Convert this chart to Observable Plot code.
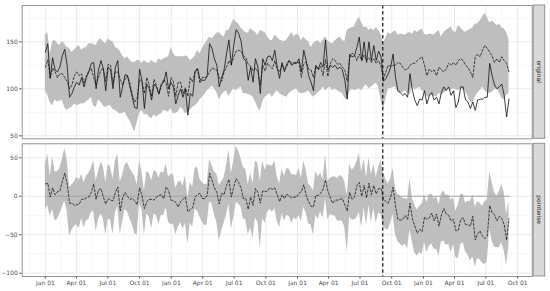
<!DOCTYPE html>
<html><head><meta charset="utf-8">
<script src="https://cdn.jsdelivr.net/npm/d3@7"></script>
<script src="https://cdn.jsdelivr.net/npm/@observablehq/plot@0.6"></script>
<style>
body{margin:0;background:#fff}
#chart{position:relative;width:550px;height:291px;background:#fff}
#chart svg{position:absolute;left:0}
</style></head><body><div id="chart"></div>
<script>
// weekly series starting at this date
const startDate = "2015-01-01";
const interventionDate = "2017-09-05";
const panelLabels = ["original", "pointwise"];

const observed = [
139,148,111,133,120,118,123,135,142,125,
91,95,102,107,104,112,102,112,118,127,
128,100,120,130,121,98,123,120,100,123,
130,91,102,115,114,102,91,80,79,121,
109,79,105,100,88,105,102,95,105,107,
118,100,107,102,84,93,100,91,100,72,
95,92,118,122,110,109,109,114,148,143,
132,125,102,112,120,137,152,125,146,163,
159,151,132,130,109,123,107,132,123,95,
132,125,134,135,130,141,123,111,128,118,
127,130,125,127,127,132,118,141,130,114,
107,98,125,121,128,123,152,120,125,123,
125,121,123,120,109,89,137,134,135,144,
155,130,150,128,150,130,146,130,140,134,
108,111,116,123,137,112,98,96,93,95,
91,116,98,88,82,89,88,98,84,93,
96,88,91,84,96,102,98,102,93,98,
80,86,102,102,88,86,79,86,77,88,
89,89,91,91,127,114,104,100,102,105,
93,70,89];

const predicted = [
123,131,112,122,118,112,116,116,112,108,
100,104,114,118,114,116,106,114,119,122,
112,104,112,120,122,108,126,125,106,118,
118,110,104,110,114,106,94,86,90,110,
108,95,112,104,92,110,103,94,103,110,
106,92,112,108,92,107,107,95,101,92,
112,107,119,120,106,112,112,113,118,122,
121,120,112,108,118,123,130,126,134,140,
141,140,135,133,126,124,119,122,118,104,
125,119,127,124,121,130,121,118,126,121,
124,130,127,128,128,128,112,126,129,121,
120,112,124,120,124,114,131,113,127,132,
130,126,127,123,120,108,132,138,136,130,
137,130,136,130,133,128,132,127,130,124,
111,118,125,124,125,125,128,127,123,120,
121,125,127,127,130,132,134,125,114,121,
118,120,114,123,120,118,121,127,125,128,
125,130,132,130,125,123,118,112,134,137,
134,141,146,143,139,135,128,132,128,134,
130,127,118];

const predUpper = [
157,160,137,150,152,148,146,150,148,144,
143,139,141,144,146,141,143,144,148,148,
147,146,151,153,150,148,153,151,150,144,
143,140,135,132,134,131,128,128,130,130,
127,130,128,127,130,128,127,132,130,132,
133,134,144,138,134,134,134,134,135,134,
130,132,135,141,137,143,147,151,155,153,
156,159,160,157,155,162,162,168,174,171,
169,165,162,160,159,164,162,160,157,162,
161,160,155,152,151,157,155,152,151,150,
152,156,160,155,158,157,151,155,152,150,
144,148,150,151,148,152,155,151,149,148,
151,153,155,152,150,162,164,165,166,172,
176,170,165,166,162,164,162,165,162,158,
148,154,160,158,160,162,157,158,158,157,
159,160,158,162,160,162,164,158,157,158,
158,157,160,162,155,160,162,164,166,161,
160,167,165,162,160,162,163,165,169,169,
172,176,180,176,170,172,170,167,169,165,
164,160,152];

const predLower = [
98,93,85,82,88,86,87,88,80,77,
79,80,84,82,83,84,84,86,88,91,
82,80,88,86,82,80,82,82,78,77,
75,73,74,75,70,66,60,54,64,74,
77,72,73,70,68,72,70,72,73,77,
76,75,79,73,74,75,80,78,73,75,
77,80,82,84,88,91,94,98,100,103,
100,96,88,93,96,98,92,96,100,98,
100,102,95,95,94,93,91,86,80,76,
86,91,93,95,91,95,98,95,93,92,
91,95,97,99,100,96,95,95,96,98,
94,91,93,96,98,102,98,100,102,98,
100,98,96,95,90,88,96,100,98,99,
100,98,102,104,100,102,104,106,102,88,
77,89,100,100,101,102,96,95,96,98,
95,93,102,99,100,102,98,96,92,91,
93,92,91,95,93,95,97,100,98,100,
99,98,100,99,97,92,86,84,91,95,
98,102,98,96,95,96,99,100,96,90,
88,93,95];

const xTickDates = ["2014-10-01","2015-01-01","2015-04-01","2015-07-01","2015-10-01",
  "2016-01-01","2016-04-01","2016-07-01","2016-10-01","2017-01-01","2017-04-01",
  "2017-07-01","2017-10-01","2018-01-01","2018-04-01","2018-07-01","2018-10-01"];
const xTickFormat = "%b %d";
const yTicksTop = [50, 100, 150];
const yMinorTop = [75, 125, 175];
const yTicksBottom = [-100, -50, 0, 50];
const yMinorBottom = [-75, -25, 25];

// build table
const t0 = new Date(startDate + "T00:00:00Z");
const rows = observed.map((v, i) => ({
  date: d3.utcDay.offset(t0, 7 * i),
  obs: v, pred: predicted[i], lo: predLower[i], hi: predUpper[i],
  eff: v - predicted[i], effLo: v - predUpper[i], effHi: v - predLower[i]
}));
const first = rows[0].date, last = rows[rows.length - 1].date;
const span = last - first;
const xDomain = [new Date(+first - 0.05 * span), new Date(+last + 0.05 * span)];
const inDom = d => d >= xDomain[0] && d <= xDomain[1];
const majorX = xTickDates.map(s => new Date(s + "T00:00:00Z"));
const minorX = majorX.slice(1).map((d, i) => new Date((+d + +majorX[i]) / 2)).filter(inDom);
const majorIn = majorX.filter(inDom);
const intervention = new Date(interventionDate + "T00:00:00Z");

const W = 550, mL = 21.7, mR = 18.3;
const style = {fontFamily: "DejaVu Sans", fontSize: "6px", color: "#4d4d4d", background: "transparent", overflow: "visible"};
const gridMajor = {stroke: "#ebebeb", strokeWidth: 1};
const gridMinor = {stroke: "#f2f2f2", strokeWidth: 0.6};

function addStrip(svg, label, top, bottom) {
  const g = d3.select(svg).append("g");
  const x0 = W - mR + 1.5;
  g.append("rect").attr("x", x0).attr("y", top).attr("width", 11.5).attr("height", bottom - top)
    .attr("fill", "#d9d9d9").attr("stroke", "#8a8a8a").attr("stroke-width", 0.9);
  g.append("text").attr("transform", `translate(${x0 + 5.75},${(top + bottom) / 2}) rotate(90)`)
    .attr("text-anchor", "middle").attr("dy", "0.35em").attr("fill", "#1a1a1a")
    .attr("font-size", 6).attr("font-family", "DejaVu Sans").text(label);
}

// top panel
const topH = 141, topMT = 5, topMB = 2.7;
const p1 = Plot.plot({
  width: W, height: topH, marginTop: topMT, marginBottom: topMB, marginLeft: mL, marginRight: mR,
  style,
  x: {domain: xDomain, axis: null},
  y: {domain: [46.8, 188.6], ticks: yTicksTop, tickSize: 2.5, tickPadding: 2, label: null},
  marks: [
    Plot.ruleY(yMinorTop, gridMinor),
    Plot.ruleY(yTicksTop, gridMajor),
    Plot.ruleX(minorX, gridMinor),
    Plot.ruleX(majorIn, gridMajor),
    Plot.areaY(rows, {x: "date", y1: "lo", y2: "hi", fill: "#bebebe"}),
    Plot.lineY(rows, {x: "date", y: "pred", stroke: "#1a1a1a", strokeWidth: 0.8, strokeDasharray: "2.2,1.8"}),
    Plot.lineY(rows, {x: "date", y: "obs", stroke: "#111", strokeWidth: 0.8}),
    Plot.ruleX([intervention], {stroke: "#111", strokeWidth: 1.2, strokeDasharray: "3.5,2.5"}),
    Plot.frame({stroke: "#8a8a8a", strokeWidth: 0.9})
  ]
});
p1.style.top = "0px";
addStrip(p1, panelLabels[0], topMT, topH - topMB);

// bottom panel
const botH = 150, botMT = 2.3, botMB = 15;
const p2 = Plot.plot({
  width: W, height: botH, marginTop: botMT, marginBottom: botMB, marginLeft: mL, marginRight: mR,
  style,
  x: {domain: xDomain, ticks: majorIn, tickFormat: d3.utcFormat(xTickFormat), tickSize: 2.5, tickPadding: 2, label: null},
  y: {domain: [-104.3, 68.2], ticks: yTicksBottom, tickSize: 2.5, tickPadding: 2, label: null},
  marks: [
    Plot.ruleY(yMinorBottom, gridMinor),
    Plot.ruleY(yTicksBottom, gridMajor),
    Plot.ruleX(minorX, gridMinor),
    Plot.ruleX(majorIn, gridMajor),
    Plot.areaY(rows, {x: "date", y1: "effLo", y2: "effHi", fill: "#bebebe"}),
    Plot.lineY(rows, {x: "date", y: d => 0, stroke: "#a3a3a3", strokeWidth: 1}),
    Plot.lineY(rows, {x: "date", y: "eff", stroke: "#1a1a1a", strokeWidth: 0.8, strokeDasharray: "2.2,1.8"}),
    Plot.ruleX([intervention], {stroke: "#111", strokeWidth: 1.2, strokeDasharray: "3.5,2.5"}),
    Plot.frame({stroke: "#8a8a8a", strokeWidth: 0.9})
  ]
});
p2.style.top = topH + "px";
addStrip(p2, panelLabels[1], botMT, botH - botMB);

const c = document.getElementById("chart");
c.appendChild(p1);
c.appendChild(p2);
</script></body></html>
